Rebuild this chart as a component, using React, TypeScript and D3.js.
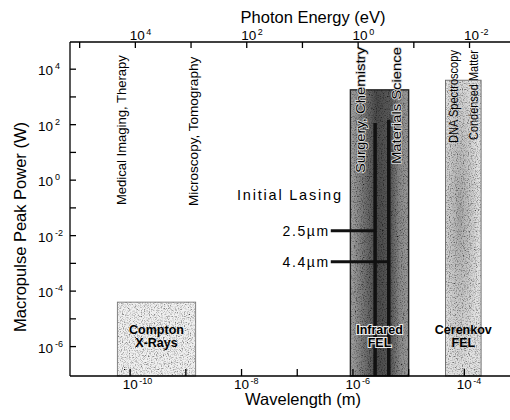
import React, { useEffect, useRef } from "react";
import * as d3 from "d3";

// decades (log10) for the three axes
const wavelengthTicks = [-10, -8, -6, -4];
const wavelengthMinor = [-9, -7, -5];
const energyTicks = [4, 2, 0, -2];
const energyMinor = [5, 3, 1, -1];
const powerTicks = [4, 2, 0, -2, -4, -6];
const powerMinor = [3, 1, -1, -3, -5];

// light sources: wavelength span (m) and peak power (W)
const sourceNames = [["Compton", "X-Rays"], ["Infrared", "FEL"], ["Cerenkov", "FEL"]];
const sourceFrom = [5.9e-11, 0.9e-6, 4.6e-5];
const sourceTo = [1.5e-9, 1.0e-5, 2.0e-4];
const sourcePeak = [4e-5, 1.8e3, 4e3];

// applications, written vertically from appPower up to appPowerEnd
const appNames = [
  "Medical Imaging, Therapy",
  "Microscopy, Tomography",
  "Surgery, Chemistry",
  "Materials Science",
  "DNA Spectroscopy",
  "Condensed Matter",
];
const appWavelength = [7e-11, 1.4e-9, 1.4e-6, 6e-6, 6.3e-5, 1.44e-4];
const appPower = [0.127, 0.117, 1.8, 3.8, 22, 28];
const appPowerEnd = [3.2e4, 2.8e4, 6.3e4, 6.3e4, 4.9e4, 4.9e4];

// initial lasing lines
const lasingLabels = ["2.5µm", "4.4µm"];
const lasingWavelength = [2.5e-6, 4.4e-6];
const lasingTop = [115, 150];
const lasingMarker = [0.015, 1.15e-3];
const lasingLineStart = 4e-7;

const HC = 1.23984e-6; // eV * m

const font = "'Liberation Sans', Arial, Helvetica, sans-serif";

export default function App() {
  const ref = useRef<SVGSVGElement>(null);

  useEffect(() => {
    const width = 510, height = 420;
    const left = 70, right = 510, top = 42, bottom = 376;

    const x = d3.scaleLog().domain([Math.pow(10, -11.08), Math.pow(10, -3.18)]).range([left, right]);
    const y = d3.scaleLog().domain([Math.pow(10, -7.06), Math.pow(10, 4.98)]).range([bottom, top]);
    const ex = (e: number) => x(HC / e);

    const svg = d3.select(ref.current);
    svg.selectAll("*").remove();
    svg.attr("width", width).attr("height", height).style("font-family", font);

    const defs = svg.append("defs");
    const grain = defs.append("filter").attr("id", "grain")
      .attr("x", 0).attr("y", 0).attr("width", "100%").attr("height", "100%");
    grain.append("feTurbulence").attr("type", "fractalNoise").attr("baseFrequency", 0.85)
      .attr("numOctaves", 2).attr("seed", 4).attr("result", "noise");
    grain.append("feColorMatrix").attr("in", "noise").attr("type", "matrix")
      .attr("values", "1 0 0 0 0  1 0 0 0 0  1 0 0 0 0  0 0 0 0 1").attr("result", "gray");
    const ct = grain.append("feComponentTransfer").attr("in", "gray").attr("result", "spk");
    ["feFuncR", "feFuncG", "feFuncB"].forEach(f =>
      ct.append(f).attr("type", "linear").attr("slope", 2.2).attr("intercept", -0.2));
    grain.append("feBlend").attr("in", "SourceGraphic").attr("in2", "spk").attr("mode", "multiply").attr("result", "mix");
    grain.append("feComposite").attr("in", "mix").attr("in2", "SourceGraphic").attr("operator", "in");

    const irGrad = defs.append("linearGradient").attr("id", "irGrad");
    [[0, "#a4a4a4"], [0.2, "#7a7a7a"], [0.45, "#4a4a4a"], [0.7, "#5a5a5a"], [0.85, "#8a8a8a"], [1, "#9a9a9a"]]
      .forEach(([o, c]) => irGrad.append("stop").attr("offset", o as number).attr("stop-color", c as string));
    const ceGrad = defs.append("radialGradient").attr("id", "ceGrad")
      .attr("cx", 0.4).attr("cy", 0.45).attr("r", 0.55);
    ceGrad.append("stop").attr("offset", 0).attr("stop-color", "#a8a8a8");
    ceGrad.append("stop").attr("offset", 1).attr("stop-color", "#e2e2e2");

    svg.append("rect").attr("width", width).attr("height", height).attr("fill", "white");

    // source boxes
    const fills = ["#f0f0f0", "url(#irGrad)", "url(#ceGrad)"];
    const strokes = ["#777", "#222", "#666"];
    sourceNames.forEach((name, i) => {
      const x0 = x(sourceFrom[i]), x1 = x(sourceTo[i]);
      svg.append("rect")
        .attr("x", x0).attr("y", y(sourcePeak[i]))
        .attr("width", x1 - x0).attr("height", bottom - y(sourcePeak[i]))
        .attr("fill", fills[i]).attr("filter", "url(#grain)");
      svg.append("rect")
        .attr("x", x0).attr("y", y(sourcePeak[i]))
        .attr("width", x1 - x0).attr("height", bottom - y(sourcePeak[i]))
        .attr("fill", "none").attr("stroke", strokes[i]).attr("stroke-width", i === 1 ? 1.4 : 0.9);
    });

    // lasing lines
    lasingLabels.forEach((label, i) => {
      const lx = x(lasingWavelength[i]);
      svg.append("line")
        .attr("x1", lx).attr("x2", lx).attr("y1", y(lasingTop[i])).attr("y2", bottom)
        .attr("stroke", "#111").attr("stroke-width", 3.5);
      svg.append("line")
        .attr("x1", x(lasingLineStart)).attr("x2", lx)
        .attr("y1", y(lasingMarker[i])).attr("y2", y(lasingMarker[i]))
        .attr("stroke", "#111").attr("stroke-width", 3);
      svg.append("text")
        .attr("x", x(lasingLineStart) - 1).attr("y", y(lasingMarker[i]) + 5)
        .attr("text-anchor", "end").attr("font-size", 14).attr("letter-spacing", 1.6)
        .text(label);
    });
    svg.append("text")
      .attr("x", x(lasingLineStart) + 12).attr("y", y(lasingMarker[0]) - 31)
      .attr("text-anchor", "end").attr("font-size", 14.5).attr("letter-spacing", 1.8)
      .text("Initial Lasing");

    // source labels
    sourceNames.forEach((name, i) => {
      const cx = (x(sourceFrom[i]) + x(sourceTo[i])) / 2;
      name.forEach((line, j) => {
        svg.append("text")
          .attr("x", cx).attr("y", bottom - 42 + j * 12.5)
          .attr("text-anchor", "middle").attr("font-size", 12.5).attr("font-weight", "bold")
          .attr("stroke", "#eee").attr("stroke-width", i === 1 ? 2 : 0).attr("paint-order", "stroke")
          .text(line);
      });
    });

    // application labels, stretched to the span they cover in the scan
    appNames.forEach((name, i) => {
      const len = y(appPower[i]) - y(appPowerEnd[i]);
      svg.append("text")
        .attr("transform", `translate(${x(appWavelength[i])},${y(appPower[i])}) rotate(-90)`)
        .attr("dy", "0.35em").attr("font-size", 12.5)
        .attr("textLength", len).attr("lengthAdjust", "spacingAndGlyphs")
        .attr("stroke", "#ddd").attr("stroke-width", i === 2 || i === 3 ? 1.5 : 0).attr("paint-order", "stroke")
        .text(name);
    });

    // axes
    const ax = svg.append("g").attr("stroke", "black").attr("stroke-width", 1.3);
    ax.append("line").attr("x1", left).attr("x2", right).attr("y1", top).attr("y2", top);
    ax.append("line").attr("x1", left).attr("x2", right).attr("y1", bottom).attr("y2", bottom);
    ax.append("line").attr("x1", left).attr("x2", left).attr("y1", top).attr("y2", bottom);

    wavelengthTicks.concat(wavelengthMinor).forEach(d => {
      ax.append("line").attr("x1", x(Math.pow(10, d))).attr("x2", x(Math.pow(10, d)))
        .attr("y1", bottom).attr("y2", bottom - 7);
    });
    energyTicks.concat(energyMinor).forEach(d => {
      ax.append("line").attr("x1", ex(Math.pow(10, d))).attr("x2", ex(Math.pow(10, d)))
        .attr("y1", top).attr("y2", top + 6);
    });
    powerTicks.concat(powerMinor).forEach(d => {
      ax.append("line").attr("x1", left).attr("x2", left + 6)
        .attr("y1", y(Math.pow(10, d))).attr("y2", y(Math.pow(10, d)));
    });

    const lab = svg.append("g").attr("fill", "black");
    wavelengthTicks.forEach(d => {
      const tx = x(Math.pow(10, d));
      lab.append("text").attr("x", tx).attr("y", 389).attr("text-anchor", "middle")
        .attr("font-size", 13.5).text("10");
      lab.append("text").attr("x", tx + 9).attr("y", 383.5).attr("font-size", 9).text(String(d));
    });
    energyTicks.forEach(d => {
      const tx = ex(Math.pow(10, d));
      lab.append("text").attr("x", tx + 2).attr("y", 40).attr("text-anchor", "middle")
        .attr("font-size", 13.5).text("10");
      lab.append("text").attr("x", tx + 11).attr("y", 34.5).attr("font-size", 9).text(String(d));
    });
    powerTicks.forEach(d => {
      const ty = y(Math.pow(10, d));
      lab.append("text").attr("x", 53).attr("y", ty + 6).attr("text-anchor", "end")
        .attr("font-size", 13.5).text("10");
      lab.append("text").attr("x", 55).attr("y", ty).attr("font-size", 9).text(String(d));
    });

    // titles
    lab.append("text").attr("x", 313).attr("y", 23).attr("text-anchor", "middle")
      .attr("font-size", 16.5).text("Photon Energy (eV)");
    lab.append("text").attr("x", 303).attr("y", 405).attr("text-anchor", "middle")
      .attr("font-size", 16.5).text("Wavelength (m)");
    lab.append("text").attr("transform", `translate(26,${(top + bottom) / 2 + 18}) rotate(-90)`)
      .attr("text-anchor", "middle").attr("font-size", 16.5).text("Macropulse Peak Power (W)");
  }, []);

  return (
    <div style={{ position: "absolute", left: 0, top: 0, background: "white" }}>
      <svg ref={ref}></svg>
    </div>
  );
}
